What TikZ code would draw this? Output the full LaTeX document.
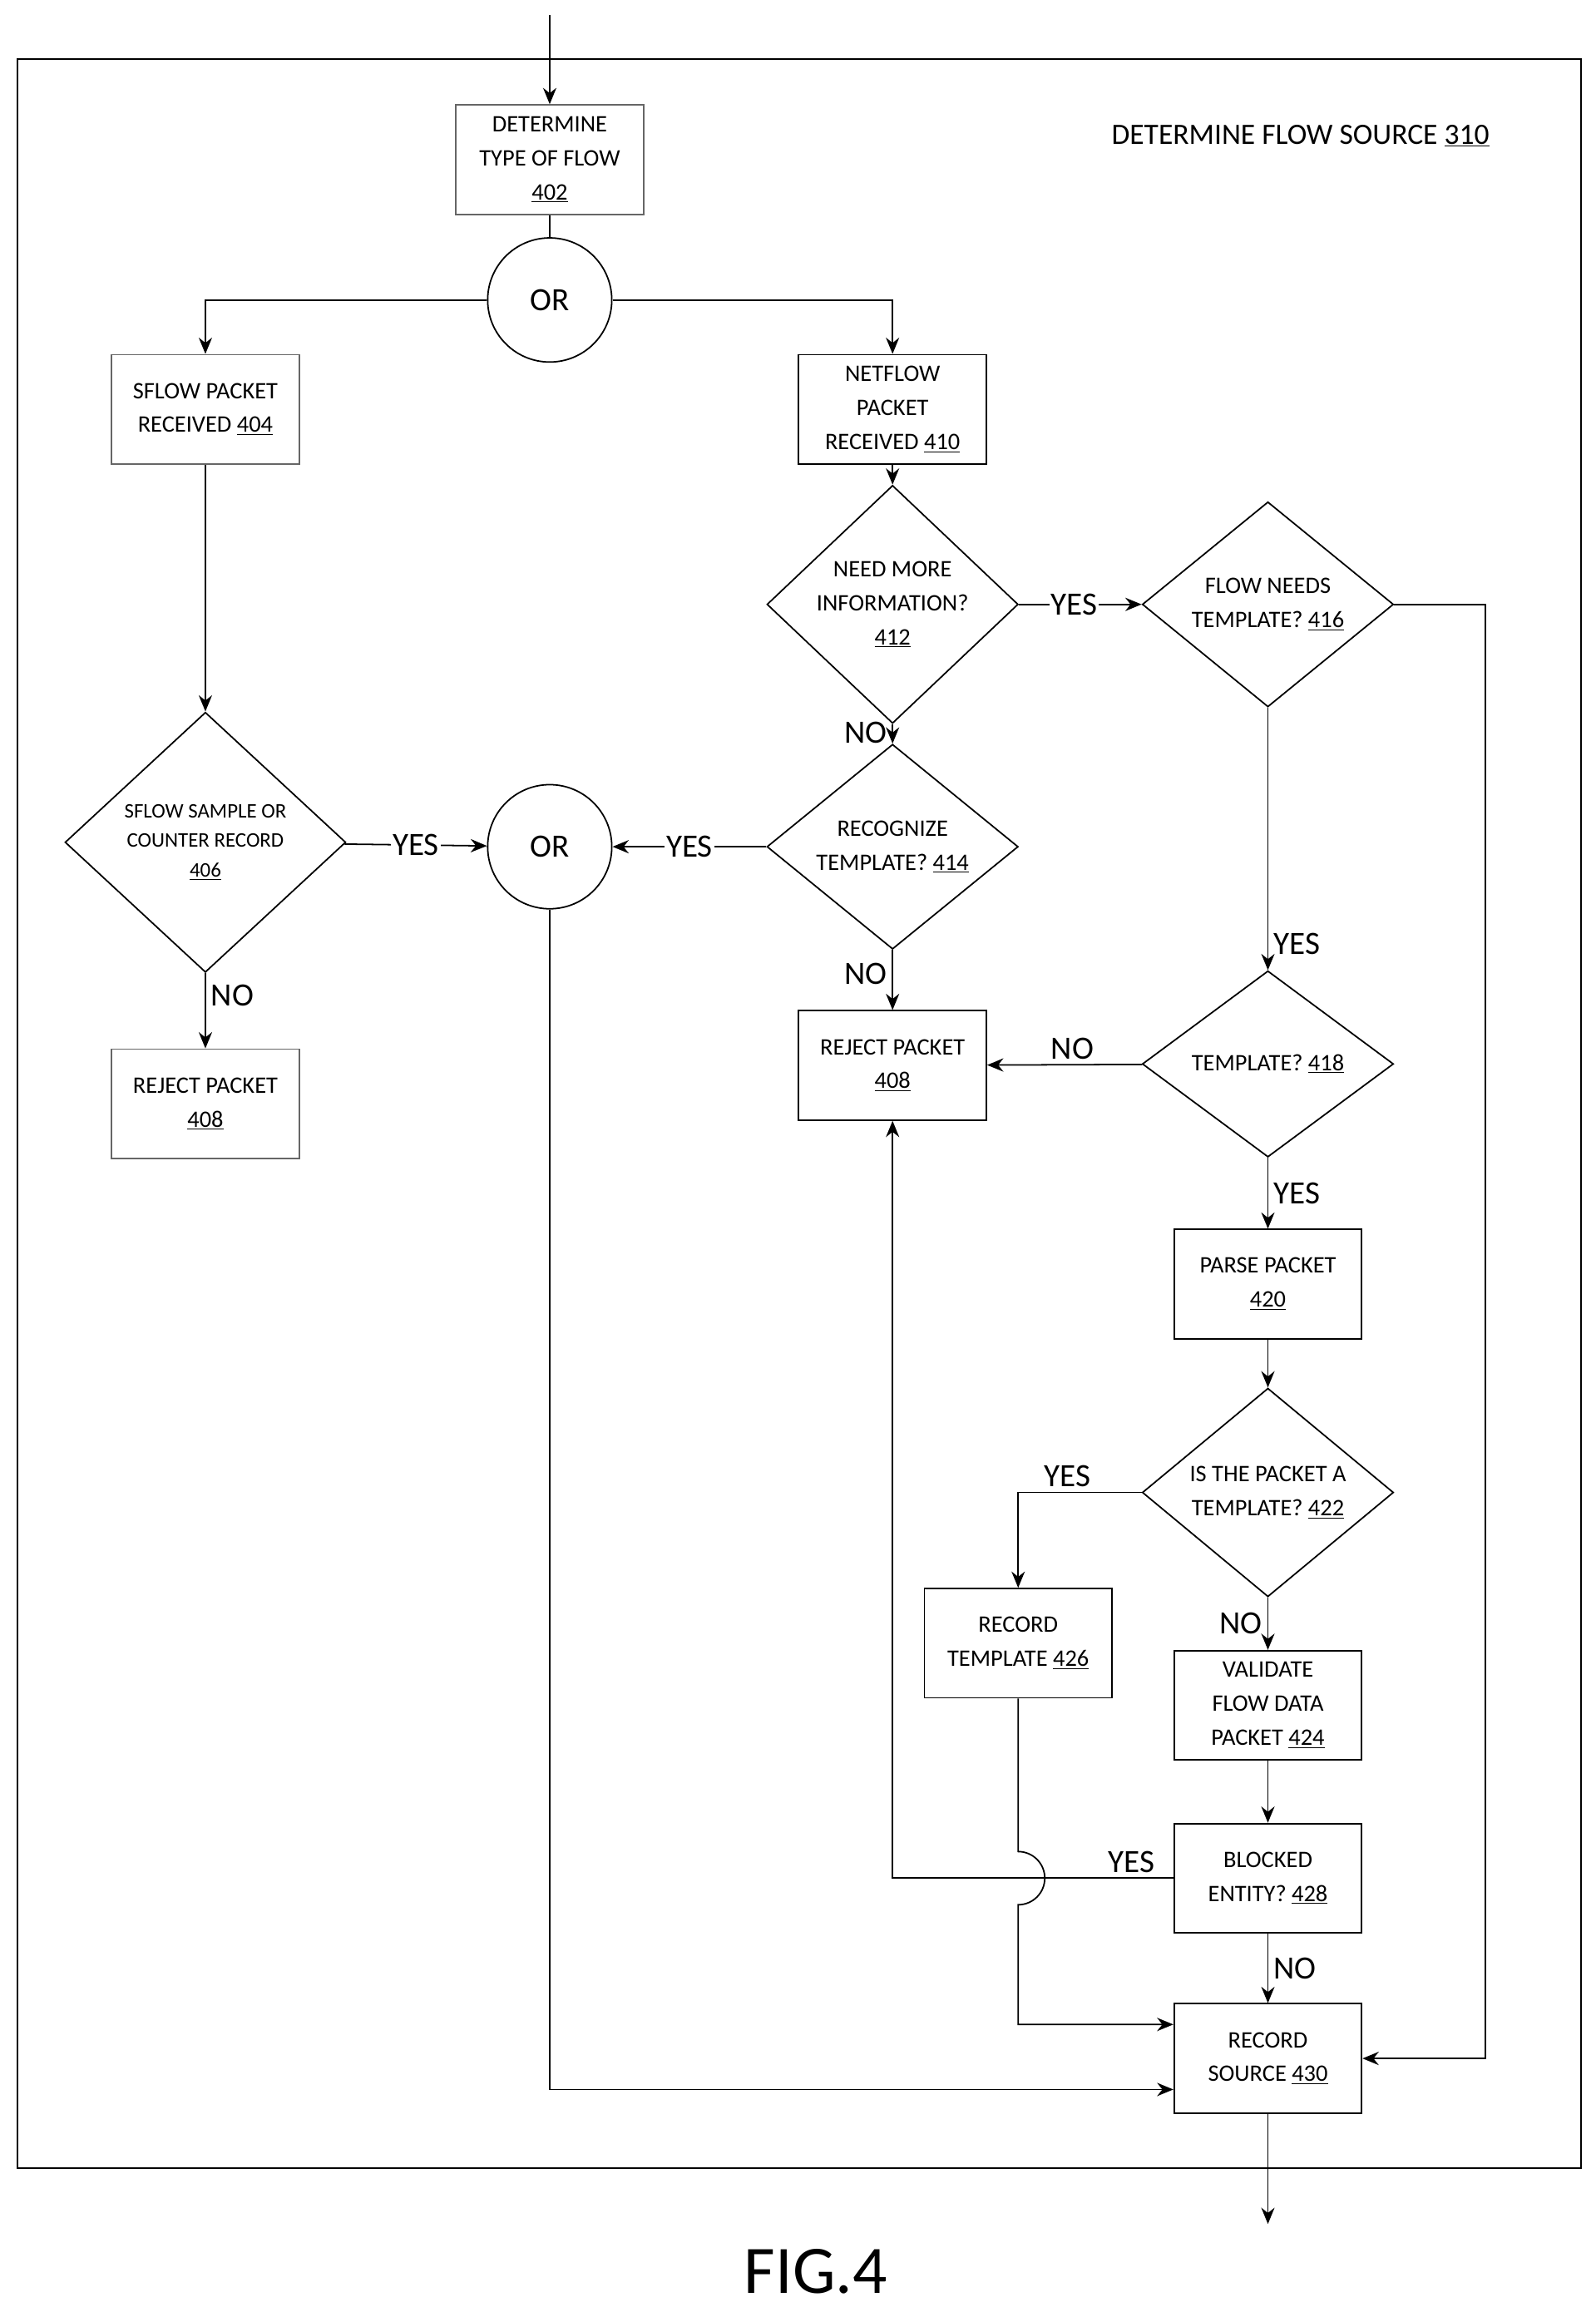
\documentclass[tikz,border=0pt]{standalone}
\usepackage{fontspec}
\setmainfont{Carlito}
\usetikzlibrary{shapes.geometric,arrows.meta}
\tikzset{
  box/.style={draw,line width=1pt,minimum width=127pt,minimum height=74pt,align=center,font=\fontsize{16}{23}\selectfont},
  lbox/.style={box,draw=black!60},
  dec/.style={draw,line width=1pt,diamond,minimum width=170pt,minimum height=126pt,inner sep=0pt,align=center,font=\fontsize{16}{23}\selectfont},
  orc/.style={draw,line width=1pt,circle,minimum size=84pt,font=\fontsize{22}{26}\selectfont},
  lab/.style={font=\fontsize{22}{26}\selectfont},
  arr/.style={line width=1pt,-{Stealth[length=11pt,width=9pt]}},
  ln/.style={line width=1pt}
}
\begin{document}
\begin{tikzpicture}[x=1pt,y=-1pt]
\useasboundingbox (0,0) rectangle (1080,1564.6);
\draw[line width=1pt] (12,40) rectangle (1070,1467);
\node[font=\fontsize{20}{24}\selectfont] (title) at (880,92) {DETERMINE FLOW SOURCE \underline{310}};
\coordinate (top) at (372,10);
\node[lbox] (n402) at (372,108) {DETERMINE\\TYPE OF FLOW\\\underline{402}};
\node[orc] (or1) at (372,203) {OR};
\node[lbox] (n404) at (139,277) {SFLOW PACKET\\RECEIVED \underline{404}};
\node[box] (n410) at (604,277) {NETFLOW\\PACKET\\RECEIVED \underline{410}};
\node[dec] (n412) at (604,409) {NEED MORE\\INFORMATION?\\\underline{412}};
\node[dec] (n416) at (858,409) {FLOW NEEDS\\TEMPLATE? \underline{416}};
\node[dec,minimum width=190pt,minimum height=176pt,font=\fontsize{14}{20}\selectfont] (n406) at (139,570) {SFLOW SAMPLE OR\\COUNTER RECORD\\\underline{406}};
\node[orc] (or2) at (372,573) {OR};
\node[dec] (n414) at (604,573) {RECOGNIZE\\TEMPLATE? \underline{414}};
\node[lbox] (n408a) at (139,747) {REJECT PACKET\\\underline{408}};
\node[box] (n408b) at (604,721) {REJECT PACKET\\\underline{408}};
\node[dec] (n418) at (858,720) {TEMPLATE? \underline{418}};
\node[box] (n420) at (858,869) {PARSE PACKET\\\underline{420}};
\node[dec] (n422) at (858,1010) {IS THE PACKET A\\TEMPLATE? \underline{422}};
\node[box] (n426) at (689,1112) {RECORD\\TEMPLATE \underline{426}};
\node[box] (n424) at (858,1154) {VALIDATE\\FLOW DATA\\PACKET \underline{424}};
\node[box] (n428) at (858,1271) {BLOCKED\\ENTITY? \underline{428}};
\node[box] (n430) at (858,1393) {RECORD\\SOURCE \underline{430}};
\coordinate (bot) at (858,1505);
\node[font=\fontsize{46}{50}\selectfont] (fig) at (552,1537) {FIG.4};
% connectors
\draw[arr] (top) -- (n402);
\draw[ln] (n402) -- (or1);
\draw[arr] (or1.west) -| (n404.north);
\draw[arr] (or1.east) -| (n410.north);
\draw[arr] (n404) -- (n406);
\draw[arr] (n406) -- node[lab,fill=white,inner sep=1pt]{YES} (or2);
\draw[arr] (n406) -- node[lab,right,pos=0.3]{NO} (n408a);
\draw[arr] (n410) -- (n412);
\draw[arr] (n412) -- node[lab,fill=white,inner sep=1pt,pos=0.45]{YES} (n416);
\draw[arr] (n412) -- node[lab,left,pos=0.45]{NO} (n414);
\draw[arr] (n414) -- node[lab,fill=white,inner sep=1pt]{YES} (or2);
\draw[arr] (n414) -- node[lab,left,pos=0.4]{NO} (n408b);
\draw[arr] (n416.east) -- (1005,409) -- (1005,1393) -- (n430.east);
\draw[arr] (n416) -- node[lab,right,pos=0.9]{YES} (n418);
\draw[arr] (n418) -- node[lab,above,pos=0.45]{NO} (n408b);
\draw[arr] (n418) -- node[lab,right,pos=0.5]{YES} (n420);
\draw[arr] (n420) -- (n422);
\draw[arr] (n422.west) -| node[lab,above,pos=0.3]{YES} (n426.north);
\draw[arr] (n422) -- node[lab,left,pos=0.5]{NO} (n424);
\draw[arr] (n424) -- (n428);
\draw[arr] (n428.west) -- node[lab,above,pos=0.15]{YES} (604,1271) -- (n408b.south);
\draw[arr] (n426.south) -- (689,1253) arc (-90:90:18) -- (689,1370) -- (n430.west |- 0,1370);
\draw[arr] (or2.south) -- (372,1414) -- (n430.west |- 0,1414);
\draw[arr] (n428) -- node[lab,right]{NO} (n430);
\draw[arr] (n430) -- (bot);
\end{tikzpicture}
\end{document}
